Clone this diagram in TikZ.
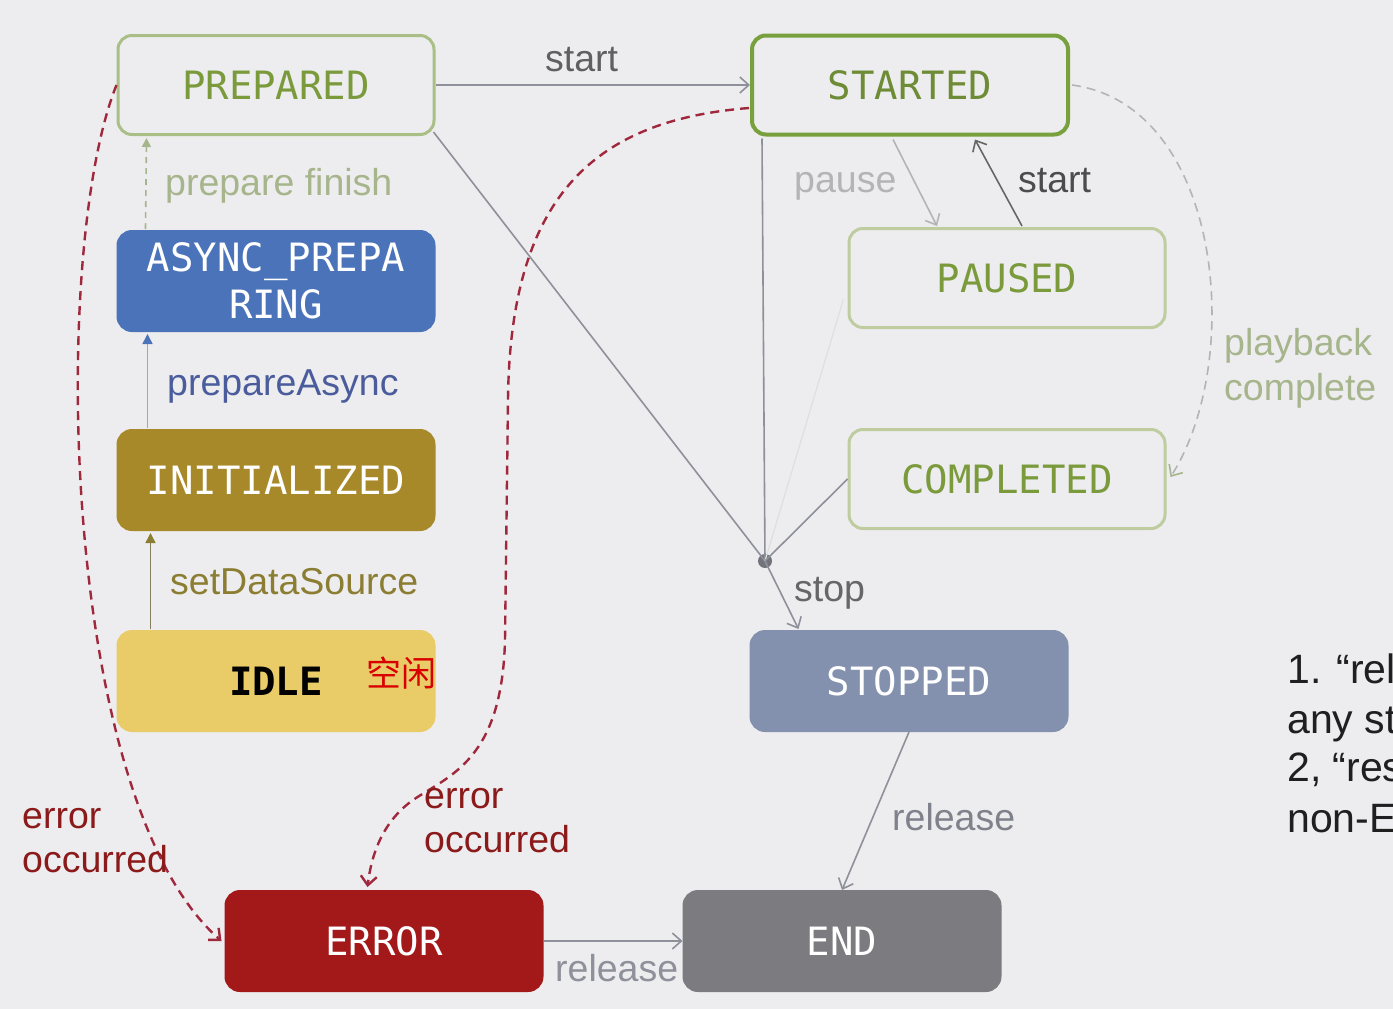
\documentclass[tikz,border=0pt]{standalone}
\usepackage{fontspec}
\usetikzlibrary{arrows.meta,calc}
\setmainfont{Liberation Sans}
\newfontfamily\smono{DejaVu Sans Mono}
\newfontfamily\cjk{Noto Sans CJK SC}
\newcommand\statefnt{\smono\fontsize{39}{47}\selectfont}
\newcommand\lblfnt{\fontsize{37.5}{44}\selectfont}
\definecolor{bg}{HTML}{EDEDEF}
\definecolor{lgborder}{HTML}{A9BF86}
\definecolor{dgborder}{HTML}{78A03C}
\definecolor{pgborder}{HTML}{BECC9F}
\definecolor{gtext}{HTML}{7A9A3C}
\definecolor{asyncc}{HTML}{4B73B9}
\definecolor{initc}{HTML}{A8892A}
\definecolor{idlec}{HTML}{E9CC68}
\definecolor{stopc}{HTML}{8391AE}
\definecolor{errc}{HTML}{A31818}
\definecolor{endc}{HTML}{7B7B80}
\definecolor{cgrey}{HTML}{8E909A}
\definecolor{lgrey}{HTML}{B4B4B8}
\definecolor{errline}{HTML}{A0283C}
\definecolor{errtext}{HTML}{8B1A1A}
\definecolor{pfin}{HTML}{A7B58D}
\definecolor{pasync}{HTML}{4A5C9C}
\definecolor{sds}{HTML}{8B7D32}
\tikzset{
  stbox/.style={rounded corners=14pt, minimum width=316pt, minimum height=99pt, inner sep=0pt, font=\statefnt, line width=3pt},
  lbl/.style={anchor=base west, inner sep=0pt, font=\lblfnt},
  notetext/.style={anchor=base west, inner sep=0pt, font=\fontsize{41}{48}\selectfont, text=black!88},
  conn/.style={line width=1.6pt, draw=cgrey},
  openarr/.style={-{Straight Barb[length=9pt,width=16pt]}},
}
\begin{document}
\begin{tikzpicture}[x=1pt,y=-1pt]
\useasboundingbox (0,0) rectangle (1393,1009);
\fill[bg] (0,0) rectangle (1393,1009);

% states
\node[stbox, draw=lgborder, fill=bg, text=gtext] (prep) at (276,85) {PREPARED};
\node[stbox, draw=dgborder, line width=4pt, fill=bg, text=gtext!90!black] (start) at (910,85) {STARTED};
\node[stbox, fill=asyncc, draw=asyncc, text=white, align=center] (async) at (276,281) {ASYNC\_PREPA\\RING};
\node[stbox, fill=initc, draw=initc, text=white] (init) at (276,480) {INITIALIZED};
\node[stbox, fill=idlec, draw=idlec, text=black, font=\statefnt\bfseries] (idle) at (276,681) {IDLE};
\node[stbox, draw=pgborder, fill=bg, text=gtext] (paused) at (1007,278) {PAUSED};
\node[stbox, draw=pgborder, fill=bg, text=gtext] (compl) at (1007,479) {COMPLETED};
\node[stbox, fill=stopc, draw=stopc, text=white] (stopped) at (909,681) {STOPPED};
\node[stbox, fill=errc, draw=errc, text=white] (err) at (384,941) {ERROR};
\node[stbox, fill=endc, draw=endc, text=white] (end) at (842,941) {END};
\node[circle, fill=cgrey!80!black, inner sep=0pt, minimum size=14pt] (junc) at (765,561) {};

\node[anchor=base west, inner sep=0pt, text=red!85!black, font=\cjk\fontsize{35}{40}\selectfont] (kx) at (366,686) {空闲};

% connectors
\draw[conn, openarr] (prep.east) -- (start.west);
\draw[conn] ($(prep.south east)+(-2,-4)$) -- (junc.center);
\draw[conn] ($(start.south west)+(12,2)$) -- (junc.center);
\draw[line width=1.2pt, draw=gray!25] ($(paused.west)+(-4,21)$) -- (junc.center);
\draw[conn] (compl.west) -- (junc.center);
\draw[conn, openarr] (junc.center) -- ($(stopped.north west)+(49,-1)$);
\draw[line width=1.6pt, draw=lgrey, openarr] ($(start.south)+(-17,3)$) -- ($(paused.north)+(-70,-1)$);
\draw[line width=1.6pt, draw=gray!80!black, openarr] ($(paused.north)+(15,-1)$) -- ($(start.south)+(65,3)$);
\draw[line width=1.6pt, draw=lgrey, dash pattern=on 9pt off 6pt, -{Straight Barb[length=9pt,width=16pt,color=pfin]}]
  ($(start.east)+(2,0)$) .. controls (1222,105) and (1245,360) .. ($(compl.east)+(4,-2)$);
\draw[conn, openarr] (err.east) -- (end.west);
\draw[conn, openarr] (stopped.south) -- (end.north);

\draw[line width=1.6pt, draw=pfin, dash pattern=on 6pt off 5pt, -{Triangle[length=9pt,width=9pt,color=pfin]}]
  ($(async.north west)+(29,-1)$) -- ($(prep.south west)+(30,2)$);
\draw[line width=1.6pt, draw=gray!70, -{Triangle[length=10pt,width=10pt,color=asyncc]}]
  ($(init.north west)+(31,-1)$) -- ($(async.south west)+(31,2)$);
\draw[line width=1.6pt, draw=sds!45!gray, -{Triangle[length=10pt,width=10pt,color=sds]}]
  ($(idle.north west)+(34,-1)$) -- ($(init.south west)+(34,2)$);

% error curves
\draw[line width=2.4pt, draw=errline, dash pattern=on 9pt off 6pt, -{Straight Barb[length=9pt,width=16pt]}]
  (prep.west) .. controls (50,250) and (60,800) .. ($(err.west)+(-3,0)$);
\draw[line width=2.4pt, draw=errline, dash pattern=on 9pt off 6pt, -{Straight Barb[length=9pt,width=16pt]}]
  ($(start.west)+(-1,23)$) .. controls (600,120) and (510,190) .. (508,400)
  -- (505,640) .. controls (502,760) and (450,775) .. (413,800)
  .. controls (385,820) and (372,850) .. ($(err.north west)+(143,-3)$);

% labels
\node[lbl, text=gray!75!black] (lstart) at (545,71) {start};
\node[lbl, text=pfin] (lpfin) at (165,195) {prepare finish};
\node[lbl, text=pasync] (lpasync) at (167,395) {prepareAsync};
\node[lbl, text=sds] (lsds) at (170,594) {setDataSource};
\node[lbl, text=lgrey] (lpause) at (794,192) {pause};
\node[lbl, text=gray!60!black] (lstart2) at (1018,192) {start};
\node[lbl, text=pfin] (lplay1) at (1224,355) {playback};
\node[lbl, text=pfin] (lplay2) at (1224,400) {complete};
\node[lbl, text=gray!80!black] (lstop) at (794,601) {stop};
\node[lbl, text=cgrey!90!black] (lrel1) at (892,830) {release};
\node[lbl, text=cgrey] (lrel2) at (555,981) {release};
\node[lbl, text=errtext] (lerr1a) at (22,828) {error};
\node[lbl, text=errtext] (lerr1b) at (22,872) {occurred};
\node[lbl, text=errtext] (lerr2a) at (424,808) {error};
\node[lbl, text=errtext] (lerr2b) at (424,852) {occurred};

% right note, cut by the picture edge as in the reference
\begin{scope}
\clip (0,0) rectangle (1393,1009);
\node[notetext] (n1) at (1287,683) {1. “rel};
\node[notetext] (n2) at (1287,733) {any st};
\node[notetext] (n3) at (1287,781) {2, “res};
\node[notetext] (n4) at (1287,832) {non-E};
\end{scope}
\end{tikzpicture}
\end{document}
